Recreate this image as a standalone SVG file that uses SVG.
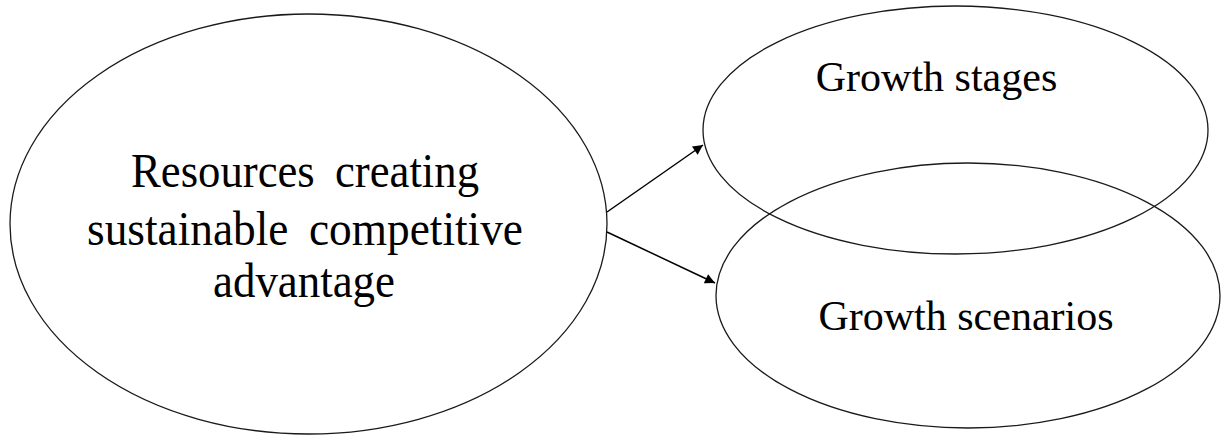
<svg xmlns="http://www.w3.org/2000/svg" width="1221" height="436" viewBox="0 0 1221 436">
<style>
.node{fill:none;stroke:#1a1a1a;stroke-width:1.3}
.lbl{font-family:"Liberation Serif","Times New Roman",serif;fill:#000;text-anchor:middle}
.big{font-size:49px;word-spacing:10px}
.mid{font-size:42px}
.conn{stroke:#000;stroke-width:1.5;fill:none;marker-end:url(#ah)}
</style>
<defs>
<marker id="ah" viewBox="0 0 10 10" refX="10" refY="5" markerWidth="12" markerHeight="10" markerUnits="userSpaceOnUse" orient="auto">
<path d="M0,0 L10,5 L0,10 z" fill="#000"/>
</marker>
</defs>
<rect width="1221" height="436" fill="#fff"/>
<g id="resources">
<ellipse class="node" cx="308.5" cy="224" rx="298.5" ry="210"/>
<text class="lbl big" x="305" y="187" textLength="348" lengthAdjust="spacingAndGlyphs">Resources creating</text>
<text class="lbl big" x="305" y="245" textLength="436" lengthAdjust="spacingAndGlyphs">sustainable competitive</text>
<text class="lbl big" x="304" y="297" textLength="182" lengthAdjust="spacingAndGlyphs">advantage</text>
</g>
<g id="stages">
<ellipse class="node" cx="955.5" cy="130" rx="252.5" ry="124"/>
<text class="lbl mid" x="936.5" y="91">Growth stages</text>
</g>
<g id="scenarios">
<ellipse class="node" cx="968" cy="295.5" rx="252" ry="132.5"/>
<text class="lbl mid" x="966" y="330">Growth scenarios</text>
</g>
<g id="connectors">
<line class="conn" x1="607" y1="212" x2="703" y2="145"/>
<line class="conn" x1="607" y1="232" x2="715" y2="283"/>
</g>
</svg>
